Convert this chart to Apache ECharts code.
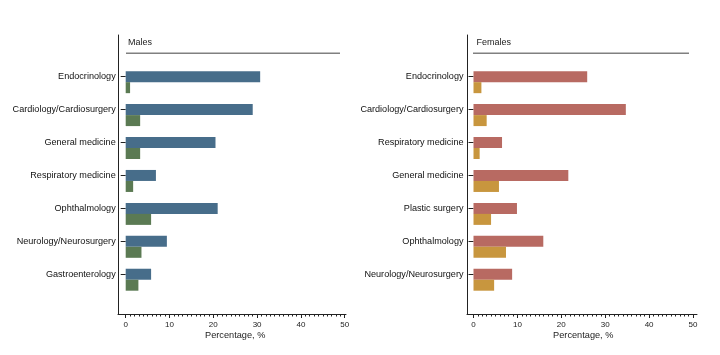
<!DOCTYPE html>
<html><head><meta charset="utf-8">
<script src="https://cdn.jsdelivr.net/npm/echarts@6/dist/echarts.min.js"></script>
<style>html,body{margin:0;padding:0;background:#fff}#c{width:720px;height:355px}</style>
</head><body><div id="c"></div>
<script>
const maleCategories = ['Endocrinology','Cardiology/Cardiosurgery','General medicine','Respiratory medicine','Ophthalmology','Neurology/Neurosurgery','Gastroenterology'];
const maleSeriesA = [30.7, 29.0, 20.5, 6.9, 21.0, 9.4, 5.8];
const maleSeriesB = [1.0, 3.3, 3.3, 1.7, 5.8, 3.6, 2.9];
const femaleCategories = ['Endocrinology','Cardiology/Cardiosurgery','Respiratory medicine','General medicine','Plastic surgery','Ophthalmology','Neurology/Neurosurgery'];
const femaleSeriesA = [25.9, 34.7, 6.5, 21.6, 9.9, 15.9, 8.8];
const femaleSeriesB = [1.8, 3.0, 1.4, 5.8, 4.0, 7.4, 4.7];
const xTicks = [0, 10, 20, 30, 40, 50];
const panelTitles = ['Males', 'Females'];

const FONT = 'Liberation Sans, Arial, sans-serif';
const chart = echarts.init(document.getElementById('c'));

const frameX = (gi) => ({gridIndex: gi, type: 'value', min: 0, max: 1, axisLine: {show: true, lineStyle: {color: '#222', width: 1}}, axisTick: {show: false}, axisLabel: {show: false}, splitLine: {show: false}});
const frameY = (gi) => ({gridIndex: gi, type: 'value', min: 0, max: 1, axisLine: {show: true, lineStyle: {color: '#222', width: 1}}, axisTick: {show: false}, axisLabel: {show: false}, splitLine: {show: false}});
const dataX = (gi) => ({gridIndex: gi, type: 'value', min: xTicks[0], max: xTicks[xTicks.length-1], interval: xTicks[1]-xTicks[0],
  position: 'bottom', offset: 23.3,
  axisLine: {show: false},
  axisTick: {show: true, length: 4, lineStyle: {color: '#222'}},
  minorTick: {show: true, splitNumber: 10, length: 2.5, lineStyle: {color: '#222'}},
  axisLabel: {fontSize: 8, color: '#222', margin: 7, fontFamily: FONT},
  splitLine: {show: false},
  name: 'Percentage, %', nameLocation: 'middle', nameGap: 16.5, nameMoveOverlap: false,
  nameTextStyle: {fontSize: 9.2, color: '#222', fontFamily: FONT}});
const dataY = (gi, cats) => ({gridIndex: gi, type: 'category', data: cats, inverse: true, offset: 7,
  axisLine: {show: false},
  axisTick: {show: true, alignWithLabel: true, length: 5, lineStyle: {color: '#222'}},
  axisLabel: {fontSize: 9.1, color: '#111', margin: 3, fontFamily: FONT}});

const mkSeries = (xi, vals, color) => ({type: 'bar', xAxisIndex: xi, yAxisIndex: xi, data: vals, barWidth: 11, barGap: '0%', itemStyle: {color: color}, silent: true});
const dummy = (xi) => ({type: 'bar', xAxisIndex: xi, yAxisIndex: xi, data: maleCategories.map(() => null), barWidth: 11, barGap: '0%', silent: true});

chart.setOption({
  animation: false,
  grid: [
    {left: 118, top: 35, width: 228, height: 279, outerBoundsMode: 'none', containLabel: false},
    {left: 125.7, top: 60.2, width: 219, height: 230.5, outerBoundsMode: 'none', containLabel: false},
    {left: 467, top: 35, width: 230, height: 279, outerBoundsMode: 'none', containLabel: false},
    {left: 473.5, top: 60.2, width: 219.5, height: 230.5, outerBoundsMode: 'none', containLabel: false}
  ],
  xAxis: [frameX(0), dataX(1), frameX(2), dataX(3)],
  yAxis: [frameY(0), dataY(1, maleCategories), frameY(2), dataY(3, femaleCategories)],
  series: [
    dummy(1), mkSeries(1, maleSeriesA, '#476d8a'), mkSeries(1, maleSeriesB, '#5b7a53'),
    dummy(3), mkSeries(3, femaleSeriesA, '#b86a62'), mkSeries(3, femaleSeriesB, '#c8963e')
  ],
  graphic: [
    {type: 'line', shape: {x1: 126, y1: 53.3, x2: 340, y2: 53.3}, style: {stroke: '#808080', lineWidth: 1.5}},
    {type: 'line', shape: {x1: 473, y1: 53.3, x2: 689, y2: 53.3}, style: {stroke: '#808080', lineWidth: 1.5}},
    {type: 'text', left: 128, top: 38, style: {text: panelTitles[0], fontSize: 9, fill: '#222', fontFamily: FONT}},
    {type: 'text', left: 476.5, top: 38, style: {text: panelTitles[1], fontSize: 9, fill: '#222', fontFamily: FONT}}
  ]
});
</script></body></html>
